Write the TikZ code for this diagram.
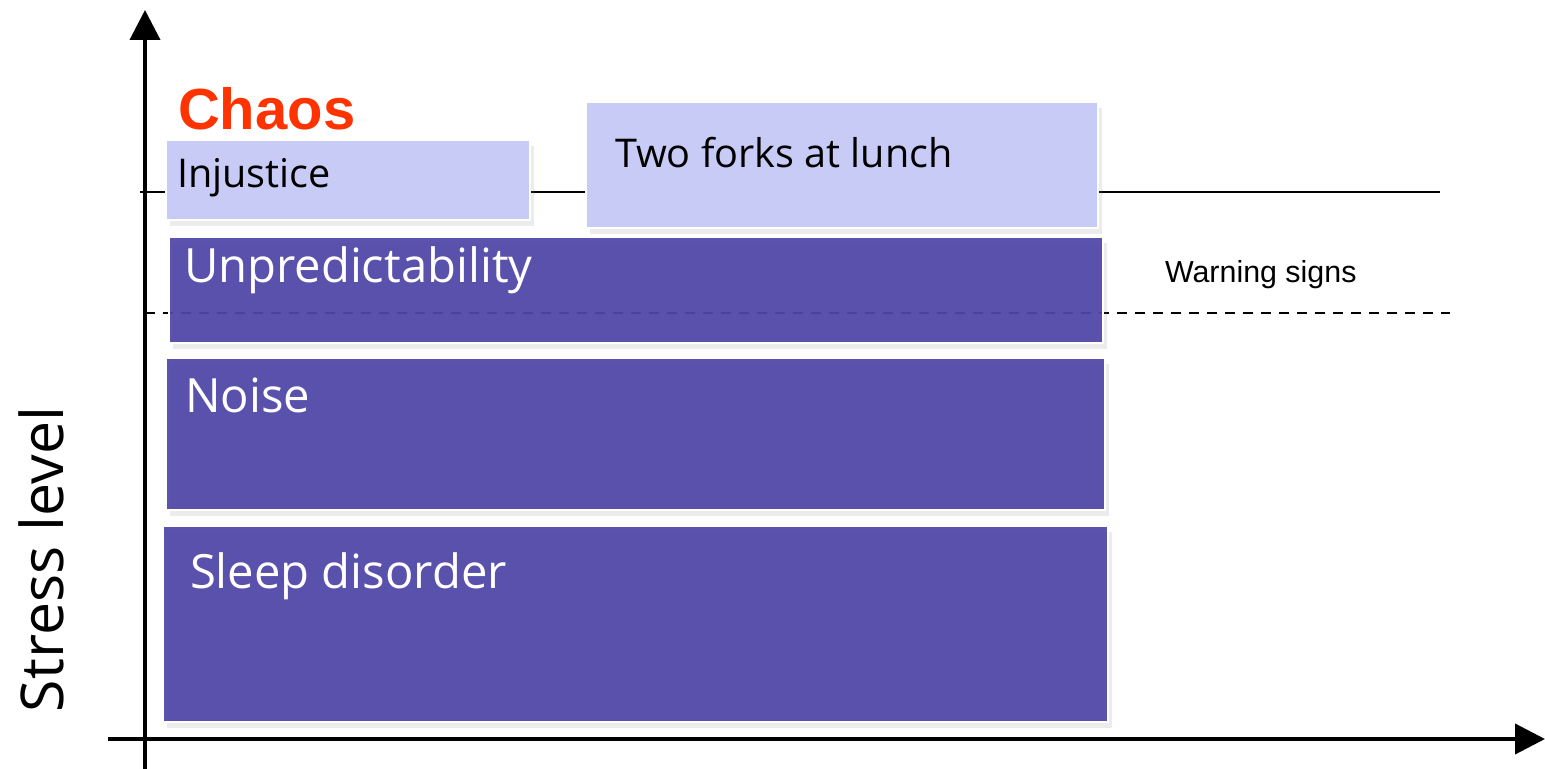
\documentclass[tikz,border=0pt]{standalone}
\usepackage{fontspec}
\usetikzlibrary{arrows.meta,shadows}
\newfontfamily\boxfont{Open Sans}
\newfontfamily\arialfont{Liberation Sans}
\definecolor{lightbox}{RGB}{200,203,245}
\definecolor{darkbox}{RGB}{80,70,168}
\definecolor{chaosred}{RGB}{255,51,0}
\tikzset{
  axis/.style={line width=2pt,-{Triangle[length=15pt,width=15pt]}},
  boxbase/.style={draw=white,line width=1pt,inner sep=0pt,outer sep=0pt,
    drop shadow={opacity=0.15,shadow xshift=2pt,shadow yshift=-3pt}},
  lbox/.style={boxbase,fill=lightbox},
  dbox/.style={boxbase,fill=darkbox,fill opacity=0.93},
  label/.style={anchor=base west,inner sep=0pt,outer sep=0pt},
  blacktext/.style={label,text=black,font=\boxfont\fontsize{19.8}{23}\selectfont},
  whitetext/.style={label,text=white,font=\boxfont\fontsize{23.6}{28}\selectfont},
}
\begin{document}
\begin{tikzpicture}[x=0.5pt,y=-0.5pt]
\useasboundingbox (0,0) rectangle (1545,769);
% reference lines
\coordinate (chaosL) at (140,192);
\coordinate (chaosR) at (1440,192);
\coordinate (warnL) at (145,313);
\coordinate (warnR) at (1450,313);
\draw[line width=1pt] (chaosL) -- (chaosR);
\draw[line width=1pt,dash pattern=on 5pt off 4pt] (warnL) -- (warnR);
% boxes
\node[lbox,minimum width=182pt,minimum height=40pt] (inj) at (348,180) {};
\node[lbox,minimum width=256pt,minimum height=63pt] (forks) at (842,165) {};
\node[dbox,minimum width=467pt,minimum height=53pt] (unp) at (636,290) {};
\node[dbox,minimum width=469.5pt,minimum height=76pt] (noise) at (635.5,434) {};
\node[dbox,minimum width=472.5pt,minimum height=98pt] (sleep) at (635.5,624) {};
% texts
\node[blacktext] (tinj) at (177,188) {Injustice};
\node[blacktext] (tforks) at (615,168) {Two forks at lunch};
\node[whitetext] (tunp) at (184,283) {Unpredictability};
\node[whitetext] (tnoise) at (185,413) {Noise};
\node[whitetext] (tsleep) at (190,588) {Sleep disorder};
\node[label,text=chaosred,font=\arialfont\bfseries\fontsize{29}{33}\selectfont] (chaos) at (178,130) {Chaos};
\node[label,font=\arialfont\fontsize{15.2}{18}\selectfont] (warn) at (1165,283) {Warning signs};
\node[label,rotate=90,font=\boxfont\fontsize{29.5}{34}\selectfont] (stress) at (63,712) {Stress level};
% axes
\coordinate (yb) at (145,769);
\coordinate (yt) at (145,10);
\coordinate (xl) at (108,739);
\coordinate (xr) at (1545,739);
\draw[axis] (yb) -- (yt);
\draw[axis] (xl) -- (xr);
\end{tikzpicture}
\end{document}
